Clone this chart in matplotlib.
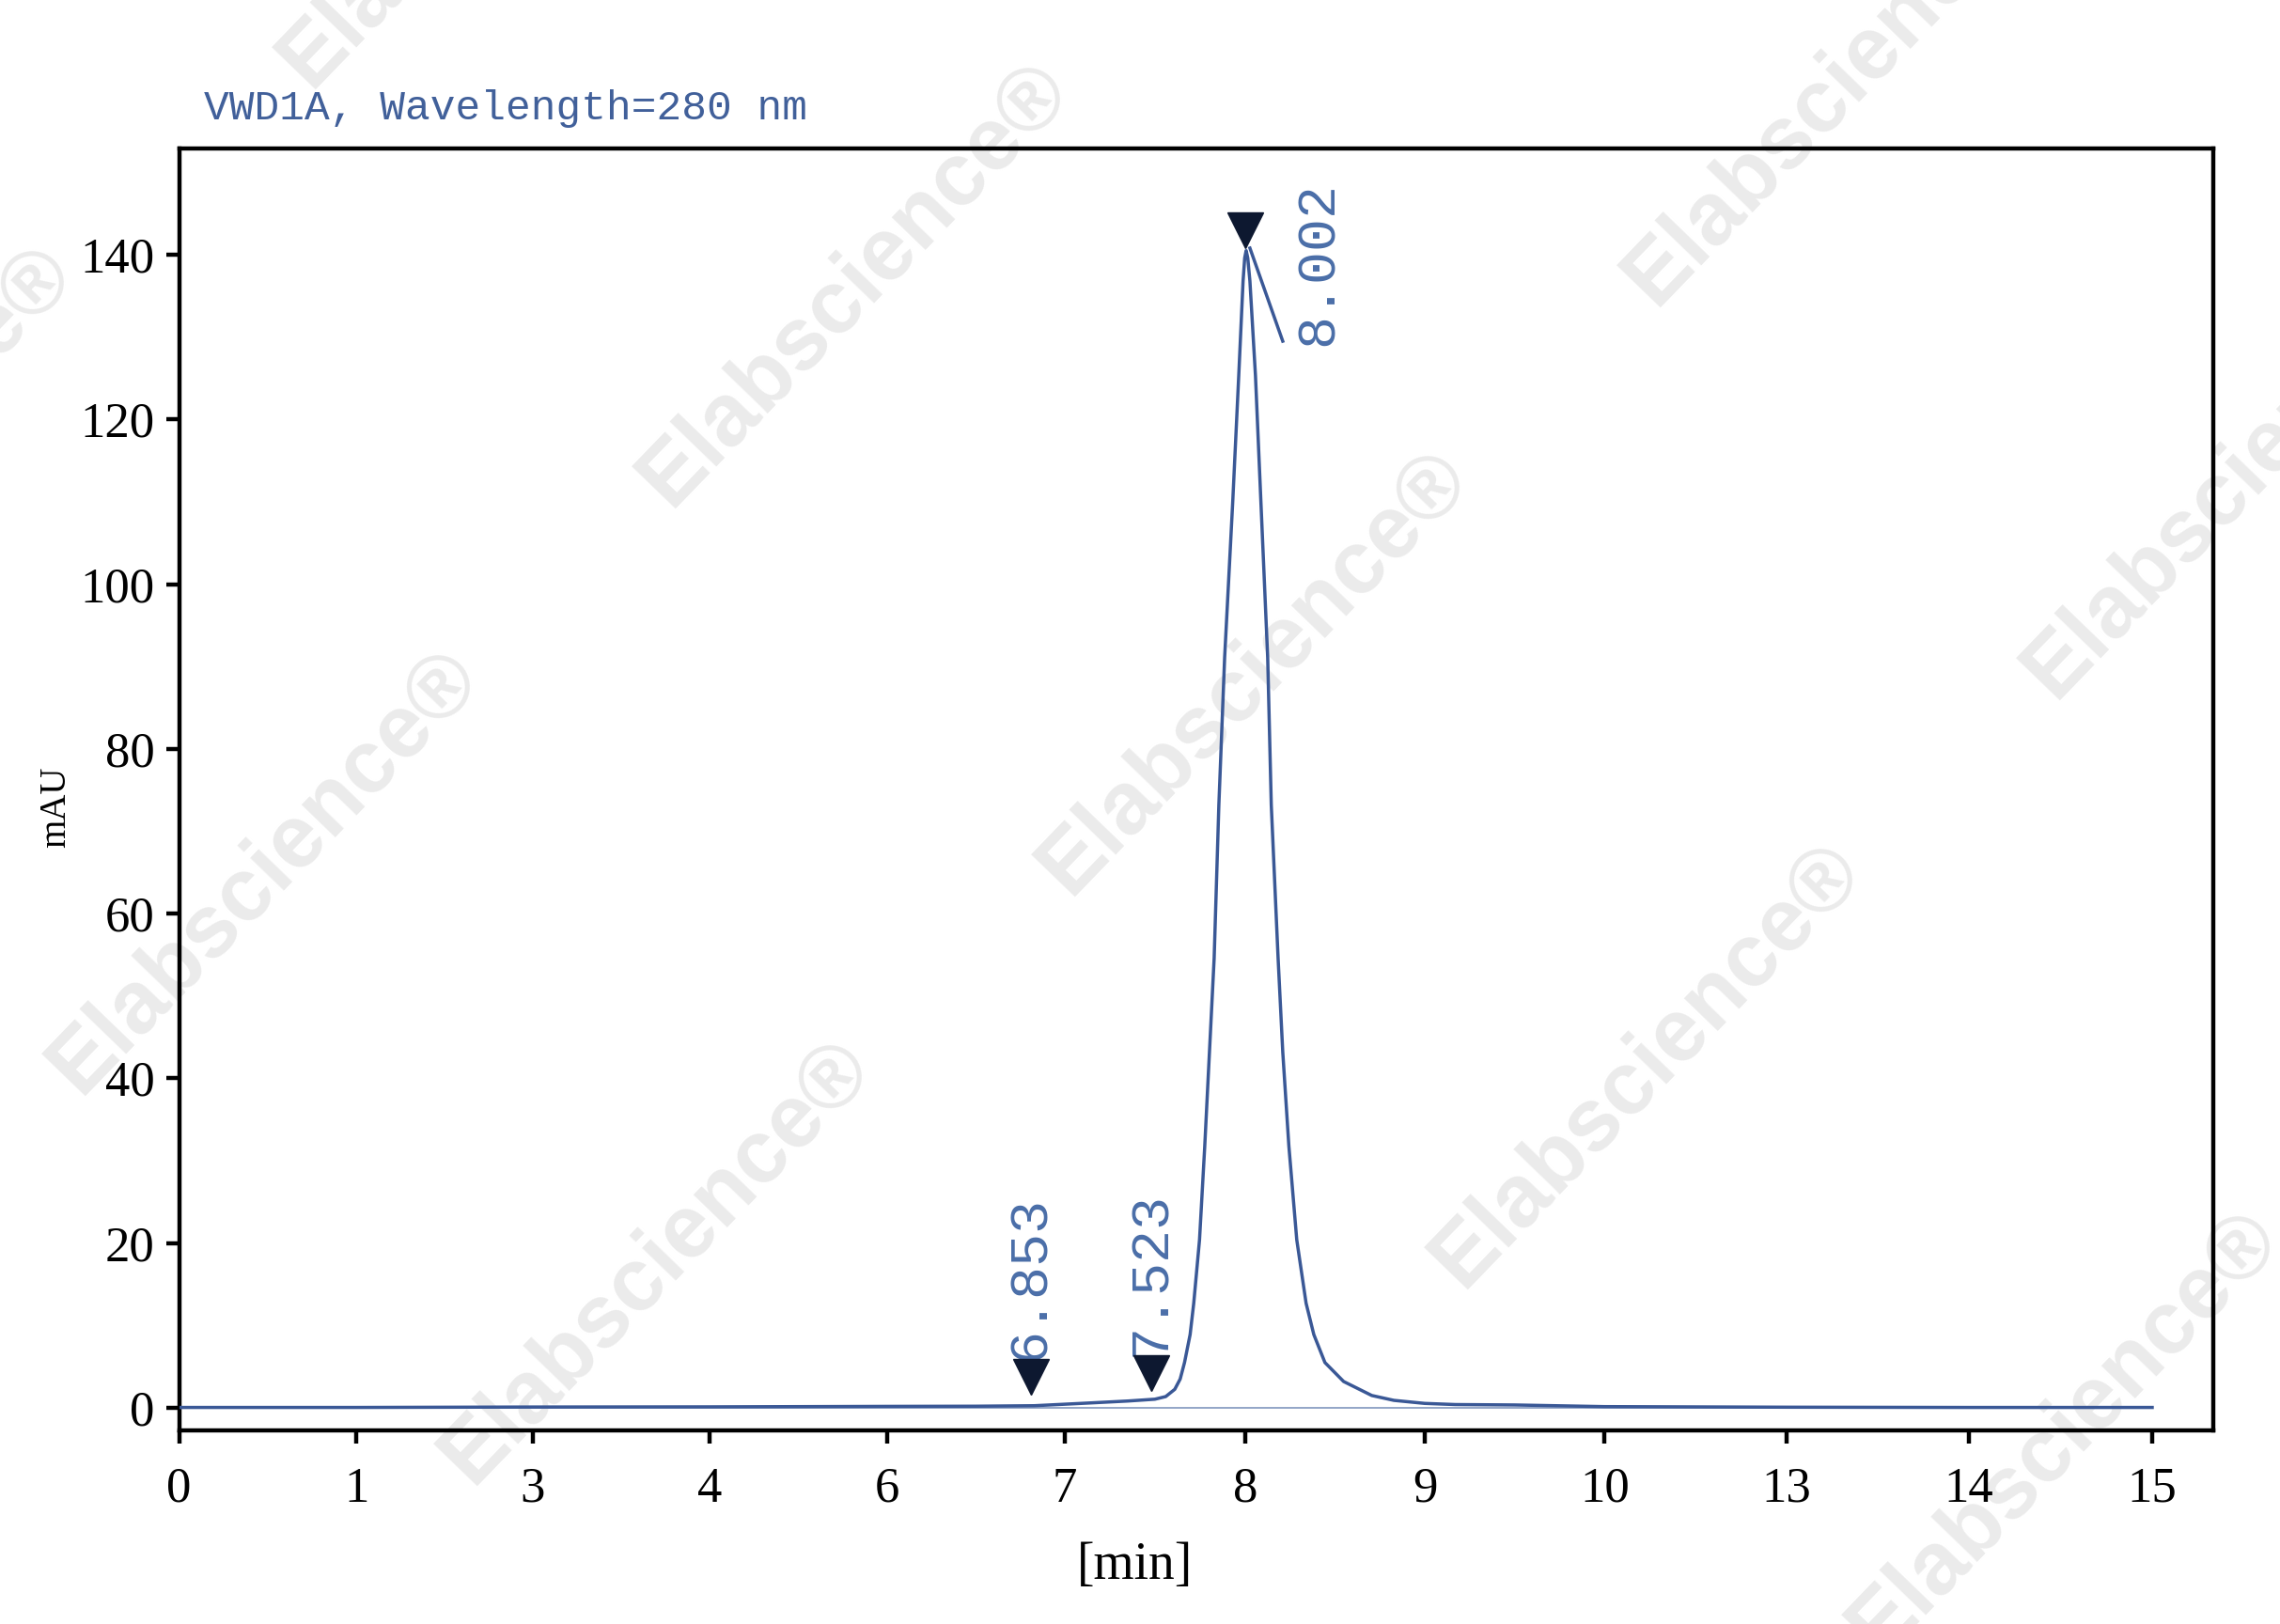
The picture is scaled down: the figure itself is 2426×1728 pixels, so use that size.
import numpy as np
import matplotlib
matplotlib.use("Agg")
import matplotlib.pyplot as plt
from matplotlib.transforms import offset_copy

# chromatogram (time in min, signal in mAU)
time_min = [0, 1, 3, 4, 6, 6.5, 6.83, 7.1, 7.35, 7.5, 7.56, 7.61, 7.64, 7.664,
            7.695, 7.715, 7.747, 7.776, 7.802, 7.828, 7.854, 7.886, 7.931, 7.964,
            7.988, 7.997, 8.005, 8.014, 8.026, 8.057, 8.087, 8.125, 8.145, 8.183,
            8.209, 8.243, 8.287, 8.339, 8.382, 8.444, 8.548, 8.705, 8.828, 9.0,
            9.17, 9.5, 10.0, 13.0, 14.0, 15.0]
signal_mau = [0.05, 0.05, 0.1, 0.12, 0.18, 0.2, 0.26, 0.55, 0.83, 1.05, 1.37,
              2.25, 3.5, 5.5, 8.9, 12.7, 20.4, 31.8, 43.2, 54.6, 73.2, 91.1,
              110.1, 125.3, 136.8, 139.6, 140.5, 139.6, 136.8, 125.3, 110.1,
              91.1, 73.2, 54.6, 43.2, 31.8, 20.4, 12.7, 8.9, 5.5, 3.2, 1.5,
              0.91, 0.54, 0.4, 0.35, 0.15, 0.08, 0.05, 0.05]

# peak marks
peak_rt = [6.853, 7.523, 8.002]
peak_labels = ["6.853", "7.523", "8.002"]
marker_mau = [3.8, 4.2, 143.0]

# tangent drawn from the main peak apex
tangent_t = [8.026, 8.209]
tangent_mau = [140.8, 129.5]

# the time axis has (nearly) evenly spaced ticks carrying these labels
tick_minutes = [0, 1, 3, 4, 6, 7, 8, 9, 10, 13, 14, 15]
ytick_vals = [0, 20, 40, 60, 80, 100, 120, 140]

# measured tick spacing of the scanned axis (px from the left spine)
knots_min = np.array(tick_minutes + [16], dtype=float)
knots_px = np.array([0, 188.6, 376, 564.7, 753.3, 942, 1134.3, 1325.3,
                     1516.7, 1710.4, 1904.3, 2099.3, 2294.3])


def fwd(t):
    return np.interp(t, knots_min, knots_px)


def inv(p):
    return np.interp(p, knots_px, knots_min)


line_col = "#3a5896"
text_col = "#4a6ea8"
serif = ["Liberation Serif", "DejaVu Serif"]
mono = ["Liberation Mono", "DejaVu Sans Mono"]

fig = plt.figure(figsize=(24.26, 17.28), dpi=100, facecolor="white")
ax = fig.add_axes([0.0786, 0.1192, 0.8921, 0.7894])
ax.patch.set_alpha(0)

# watermark
wm_pos = [(0.375, 0.825), (0.550, 0.586), (0.7225, 0.344), (0.116, 0.463),
          (0.288, 0.223), (0.9055, 0.118), (0.982, 0.707), (0.807, 0.949),
          (0.217, 1.083), (-0.062, 0.712)]
for wx, wy in wm_pos:
    fig.text(wx, wy, "Elabscience®", rotation=46, ha="center", va="center",
             fontsize=68, fontweight="bold", family="Liberation Sans",
             color="#ebebeb", zorder=-5)

ax.set_xscale("function", functions=(fwd, inv))

ax.plot([0, 15], [0, 0], color="#8096bd", lw=1.2, zorder=2)
ax.plot(time_min, signal_mau, color=line_col, lw=2.5, zorder=3,
        solid_joinstyle="round")
ax.plot(tangent_t, tangent_mau, color=line_col, lw=2.5, zorder=3)

# the small peak triangles sit a little left of their retention time
shifted = offset_copy(ax.transData, fig=fig, x=-6, y=0, units="points")
ax.plot(peak_rt[:2], marker_mau[:2], linestyle="none", marker="v",
        markersize=28, color="#0d1830", zorder=4, transform=shifted)
ax.plot(peak_rt[2:], marker_mau[2:], linestyle="none", marker="v",
        markersize=28, color="#0d1830", zorder=4)

for rt, lab, my in zip(peak_rt, peak_labels, marker_mau):
    if my > 100:
        ax.annotate(lab, (rt, my), xytext=(56, -89), textcoords="offset points",
                    rotation=90, ha="center", va="bottom", fontsize=42,
                    family=mono, color=text_col)
    else:
        ax.annotate(lab, (rt, my), xytext=(-6, 13), textcoords="offset points",
                    rotation=90, ha="center", va="bottom", fontsize=42,
                    family=mono, color=text_col)

ax.set_xlim(0, 15.333)
ax.set_ylim(-2.74, 152.9)
ax.set_xticks(tick_minutes)
ax.set_xticklabels([str(v) for v in tick_minutes])
ax.set_yticks(ytick_vals)
ax.minorticks_off()

for sp in ax.spines.values():
    sp.set_linewidth(3.2)
    sp.set_color("black")

ax.tick_params(axis="both", direction="out", length=10, width=3.2,
               labelsize=38, colors="black")
ax.tick_params(axis="x", pad=18)
ax.tick_params(axis="y", pad=9)
for lab in ax.get_xticklabels() + ax.get_yticklabels():
    lab.set_family(serif)

ax.set_xlabel("[min]", fontsize=40, family=serif)
ax.xaxis.set_label_coords(0.4696, -0.0865)
ax.set_ylabel("mAU", fontsize=28, family=serif)
ax.yaxis.set_label_coords(-0.052, 0.486)

fig.text(0.0894, 0.9265, "VWD1A, Wavelength=280 nm", fontsize=32,
         family=mono, color="#41609a", va="baseline", ha="left")

fig.savefig("out.png", dpi=100, facecolor="white")
